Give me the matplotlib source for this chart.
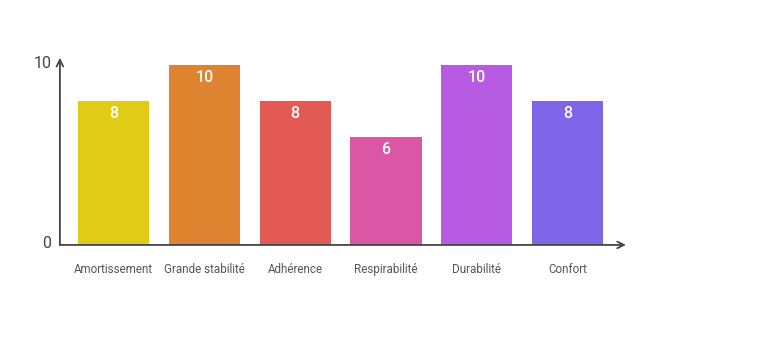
import matplotlib.pyplot as plt
import matplotlib.transforms as mtransforms

categories = ['Amortissement', 'Grande stabilité', 'Adhérence', 'Respirabilité', 'Durabilité', 'Confort']
values = [8, 10, 8, 6, 10, 8]
colors = ['#E0CB16', '#DE8430', '#E35A55', '#DB57A6', '#B85BE3', '#7F66E8']

plt.rcParams['font.family'] = ['Roboto', 'DejaVu Sans']

fig = plt.figure(figsize=(7.68, 3.55), dpi=100)
ax = fig.add_axes([0.078, 0.31, 0.737, 0.527])

x = list(range(len(categories)))
ax.bar(x, values, width=0.785, color=colors)

for xi, v in zip(x, values):
    ax.text(xi, v - 0.3, str(v), ha='center', va='top', color='white', fontsize=11.5, fontweight='medium')

ax.set_xlim(-0.595, 5.645)
ax.set_ylim(0, 10.4)

for s in ax.spines.values():
    s.set_visible(False)

axis_col = '#444444'
ax.annotate('', xy=(5.645, 0), xytext=(-0.595, 0),
            arrowprops=dict(arrowstyle='->', color=axis_col, lw=1.3, shrinkA=0, shrinkB=0, mutation_scale=12),
            annotation_clip=False)
ax.annotate('', xy=(-0.595, 10.4), xytext=(-0.595, 0),
            arrowprops=dict(arrowstyle='->', color=axis_col, lw=1.3, shrinkA=0, shrinkB=0, mutation_scale=12),
            annotation_clip=False)

ax.set_yticks([0, 10])
ax.set_yticklabels(['0', '10'], fontsize=11.5, color='#444444')
ax.tick_params(axis='y', length=0, pad=6)
shift = mtransforms.ScaledTranslation(0, 3 / 100, fig.dpi_scale_trans)
for lab in ax.get_yticklabels():
    lab.set_transform(lab.get_transform() + shift)

ax.set_xticks(x)
ax.set_xticklabels(categories, fontsize=8.4, color='#555555')
ax.tick_params(axis='x', length=0, pad=13)

fig.savefig('out.png', dpi=100)
